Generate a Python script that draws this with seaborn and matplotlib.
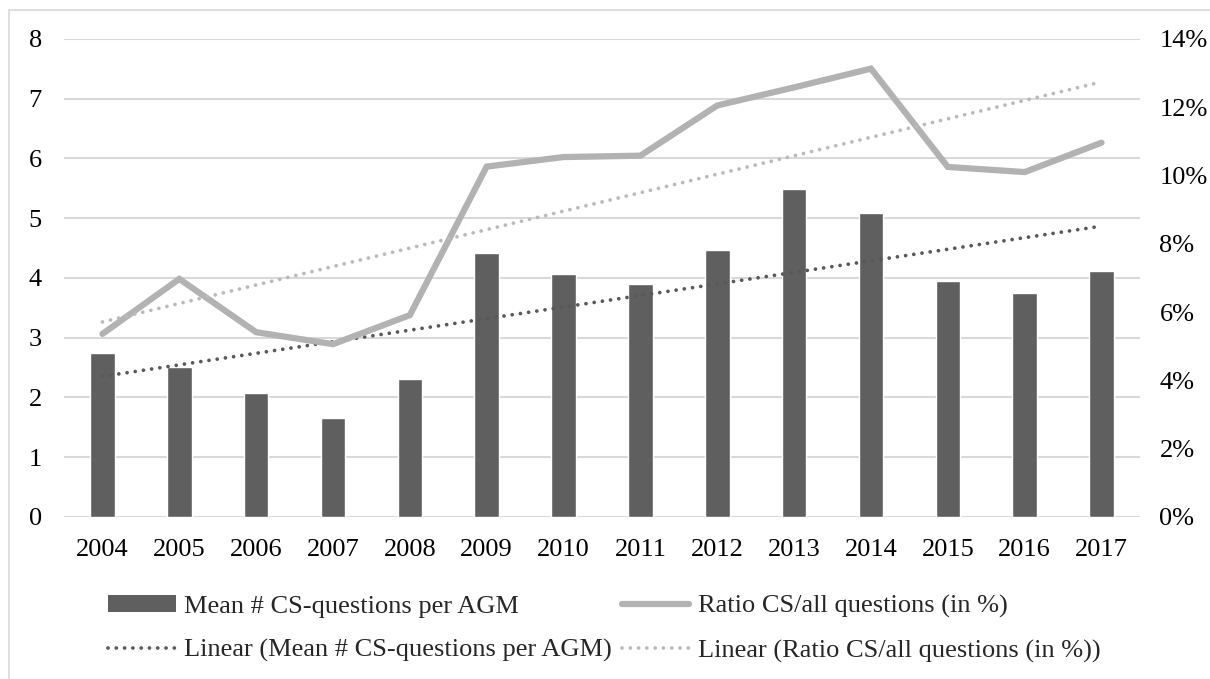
import numpy as np
import pandas as pd
import matplotlib
matplotlib.use("Agg")
import matplotlib.pyplot as plt
from matplotlib.lines import Line2D
from matplotlib.patches import Patch, Rectangle
from matplotlib.ticker import PercentFormatter
import seaborn as sns


YEARS = [str(y) for y in range(2004, 2018)]
MEAN_CS_QUESTIONS = [2.75, 2.51, 2.07, 1.66, 2.31, 4.42, 4.07,
                     3.89, 4.47, 5.49, 5.09, 3.94, 3.75, 4.11]
RATIO_CS_ALL = [5.36, 6.97, 5.41, 5.06, 5.91, 10.26, 10.54,
                10.58, 12.05, 12.58, 13.13, 10.25, 10.10, 10.96]

LABEL_BAR = "Mean # CS-questions per AGM"
LABEL_RATIO = "Ratio CS/all questions (in %)"
LABEL_LIN_BAR = "Linear (Mean # CS-questions per AGM)"
LABEL_LIN_RATIO = "Linear (Ratio CS/all questions (in %))"

BAR_COLOR = "#5f5f5f"
RATIO_COLOR = "#b2b2b2"
LIN_BAR_COLOR = "#595959"
LIN_RATIO_COLOR = "#bababa"
GRID_COLOR = "#d9d9d9"

FONT_SIZE = 19
DOT_LW = 2.7
DOTS = (0, (0.01, 2.2))


def main():
    sns.set_theme(style="white")
    plt.rcParams["font.family"] = ["Liberation Serif", "DejaVu Serif"]

    df = pd.DataFrame({
        "year": YEARS,
        "mean_cs": MEAN_CS_QUESTIONS,
        "ratio": np.array(RATIO_CS_ALL) / 100.0,
    })
    xpos = np.arange(len(df))

    fig = plt.figure(figsize=(12.1, 6.79), dpi=100)
    ax = fig.add_axes([0.0529, 0.2387, 0.8892, 0.704])

    # outer chart border (light gray), like the Excel chart area
    fig.patches.append(Rectangle((0.0075, -0.05), 1.2, 1.0353, transform=fig.transFigure,
                                 fill=False, edgecolor="#d9d9d9", linewidth=1.2))

    sns.barplot(data=df, x="year", y="mean_cs", color=BAR_COLOR, width=0.32,
                saturation=1, ax=ax, zorder=2)

    ax.set_ylim(0, 8)
    ax.set_xlim(-0.5, len(df) - 0.5)
    ax.set_yticks(range(0, 9))
    ax.yaxis.grid(True, color=GRID_COLOR, linewidth=1.5, zorder=0)
    ax.set_axisbelow(True)
    ax.set_xlabel("")
    ax.set_ylabel("")
    ax.tick_params(axis="y", length=0, pad=16, labelsize=FONT_SIZE, labelcolor="black")
    ax.tick_params(axis="x", length=0, pad=16, labelsize=FONT_SIZE, labelcolor="black")
    for s in ax.spines.values():
        s.set_visible(False)

    # linear trend of the bars
    k, b = np.polyfit(xpos, df["mean_cs"], 1)
    ax.plot(xpos, k * xpos + b, color=LIN_BAR_COLOR, linewidth=DOT_LW,
            linestyle=DOTS, dash_capstyle="round", zorder=4)

    ax2 = ax.twinx()
    sns.lineplot(x=xpos, y=df["ratio"], color=RATIO_COLOR, linewidth=4.5,
                 ax=ax2, zorder=3, solid_joinstyle="miter")
    k2, b2 = np.polyfit(xpos, df["ratio"], 1)
    ax2.plot(xpos, k2 * xpos + b2, color=LIN_RATIO_COLOR, linewidth=DOT_LW,
             linestyle=DOTS, dash_capstyle="round", zorder=4)

    ax2.set_ylim(0, 0.14)
    ax2.set_yticks(np.arange(0, 0.141, 0.02))
    ax2.yaxis.set_major_formatter(PercentFormatter(1.0, decimals=0))
    ax2.set_ylabel("")
    ax2.tick_params(axis="y", length=0, pad=14, labelsize=FONT_SIZE, labelcolor="black")
    ax2.grid(False)
    for s in ax2.spines.values():
        s.set_visible(False)

    handles = [
        Patch(facecolor=BAR_COLOR, edgecolor="none"),
        Line2D([], [], color=LIN_BAR_COLOR, linewidth=DOT_LW,
               linestyle=DOTS, dash_capstyle="round"),
        Line2D([], [], color=RATIO_COLOR, linewidth=4.5, solid_capstyle="round"),
        Line2D([], [], color=LIN_RATIO_COLOR, linewidth=DOT_LW,
               linestyle=DOTS, dash_capstyle="round"),
    ]
    labels = [LABEL_BAR, LABEL_LIN_BAR, LABEL_RATIO, LABEL_LIN_RATIO]
    fig.legend(handles, labels, loc="center", bbox_to_anchor=(0.4996, 0.074), ncol=2,
               frameon=False, fontsize=FONT_SIZE, handlelength=2.55, handleheight=0.6,
               handletextpad=0.33, columnspacing=0.37, labelspacing=0.82,
               borderaxespad=0, borderpad=0)

    fig.savefig("out.png", dpi=100)
    plt.close(fig)


if __name__ == "__main__":
    main()
